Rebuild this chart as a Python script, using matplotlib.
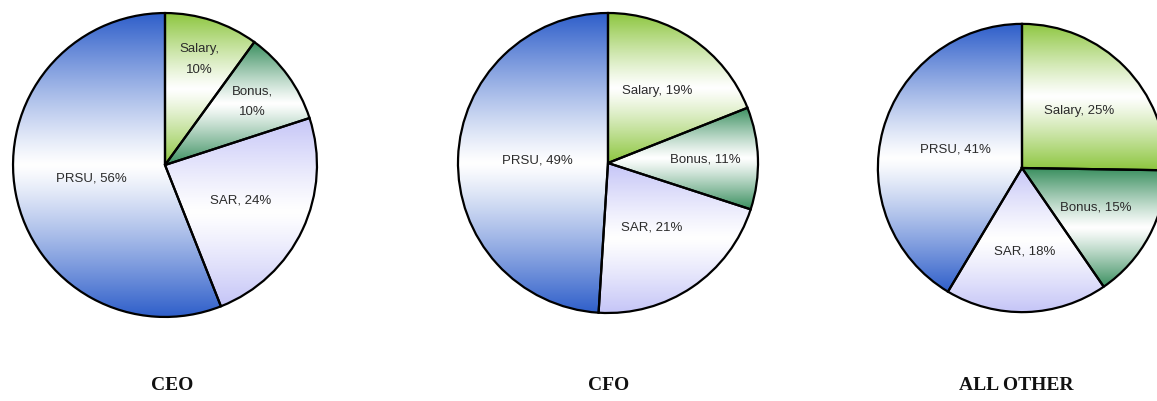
import numpy as np
import matplotlib
matplotlib.use("Agg")
import matplotlib.pyplot as plt
from matplotlib.colors import to_rgb

# ---- data ----
categories = ["Salary", "Bonus", "SAR", "PRSU"]
ceo_values = [10, 10, 24, 56]
cfo_values = [19, 11, 21, 49]
other_values = [25, 15, 18, 41]
titles = ["CEO", "CFO", "ALL OTHER"]
wrap_labels = [True, False, False]

# ---- style ----
slice_colors = ["#8DC63F", "#3A8F5F", "#C5C5F7", "#2F5FCA"]
label_dist = [[0.73, 0.71, 0.55, 0.49],
              [0.58, 0.65, 0.52, 0.47],
              [0.56, 0.58, 0.58, 0.48]]
# pie centres / radius in pixels (x, y from top, r)
geom = [(165, 165, 155), (608, 163, 153), (1022, 168, 147)]
title_x = [172, 609, 1016]
title_y = 386

W, H = 1157, 401
fig = plt.figure(figsize=(W / 100, H / 100), dpi=100)
fig.patch.set_facecolor("white")


def gradient_img(color, n=256):
    c = np.array(to_rgb(color))
    t = np.linspace(0, 1, n)
    w = np.abs(2 * t - 1) ** 1.15
    img = (1 - w)[:, None] * np.ones(3) + w[:, None] * c
    return img[:, None, :]


all_values = [ceo_values, cfo_values, other_values]
for k, vals in enumerate(all_values):
    cx, cy, r = geom[k]
    ax = fig.add_axes([(cx - r) / W, 1 - (cy + r) / H, 2 * r / W, 2 * r / H])
    ax.set_axis_off()
    wedges, _ = ax.pie(vals, startangle=90, counterclock=False, radius=1,
                       colors=slice_colors,
                       wedgeprops=dict(edgecolor="black", linewidth=1.6))
    for i, w in enumerate(wedges):
        ext = w.get_path().get_extents()
        im = ax.imshow(gradient_img(slice_colors[i]),
                       extent=[ext.x0, ext.x1, ext.y0, ext.y1],
                       origin="upper", aspect="auto", zorder=1,
                       interpolation="bilinear")
        im.set_clip_path(w)
        w.set_facecolor("none")
        w.set_zorder(2)
        mid = np.deg2rad((w.theta1 + w.theta2) / 2)
        d = label_dist[k][i]
        pct = f"{vals[i]:d}%"
        if wrap_labels[k] and i < 2:
            txt = f"{categories[i]},\n{pct}"
        else:
            txt = f"{categories[i]}, {pct}"
        ax.text(d * np.cos(mid), d * np.sin(mid), txt, ha="center",
                va="center", fontsize=9.5, color="#2B2B2B",
                family="Liberation Sans", linespacing=1.9, zorder=3)
    ax.set_xlim(-1.02, 1.02)
    ax.set_ylim(-1.02, 1.02)
    ax.set_aspect("equal")

for k, t in enumerate(titles):
    fig.text(title_x[k] / W, 1 - title_y / H, t, ha="center", va="center",
             fontsize=14, fontweight="bold", family="Liberation Serif",
             color="#111111")

fig.savefig("out.png", dpi=100, facecolor="white")
